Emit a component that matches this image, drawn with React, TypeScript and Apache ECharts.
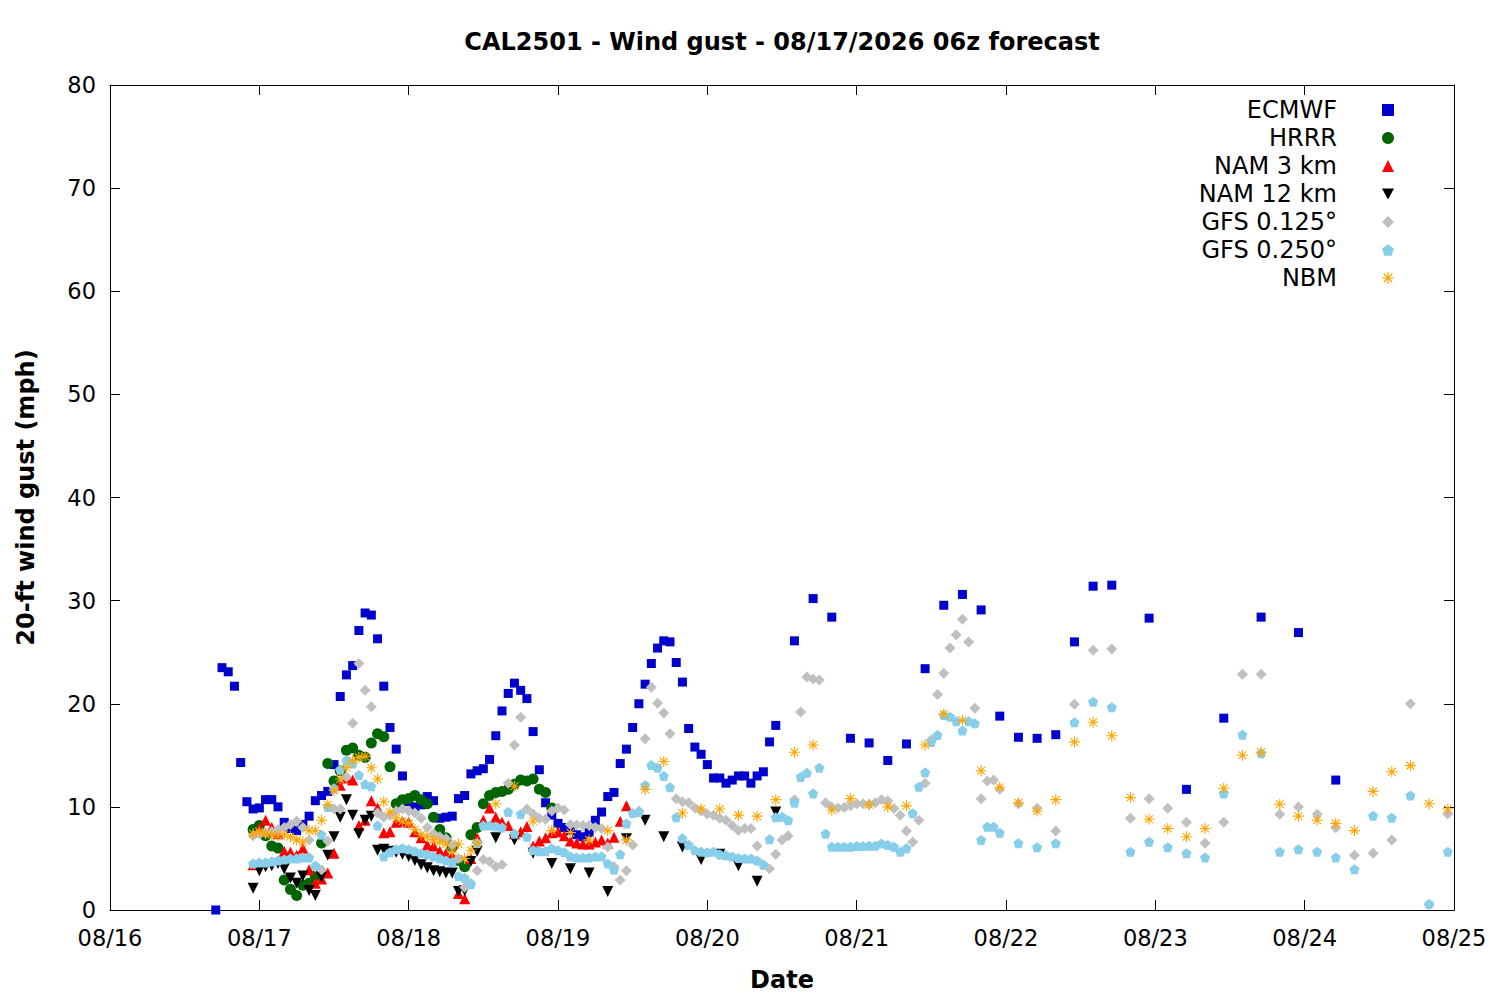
import React, { useEffect, useRef } from "react";
import * as echarts from "echarts";

// ---- time helpers (hours since 08/16 00:00 local) ----
function hourRange(start: number, end: number, step: number): number[] {
  const out: number[] = [];
  for (let h = start; h <= end; h += step) out.push(h);
  return out;
}

const DAY_LABELS = ["08/16", "08/17", "08/18", "08/19", "08/20", "08/21", "08/22", "08/23", "08/24", "08/25"];
const Y_TICKS = [0, 10, 20, 30, 40, 50, 60, 70, 80];

const SERIES_NAMES = ["ECMWF", "HRRR", "NAM 3 km", "NAM 12 km", "GFS 0.125\u00b0", "GFS 0.250\u00b0", "NBM"];

// ---- ECMWF: hourly 17..107, 3-hourly 110..161, 6-hourly 167..197 ----
const ECMWF_HOURS = [...hourRange(17, 107, 1), ...hourRange(110, 161, 3), ...hourRange(167, 197, 6)];
const ECMWF_GUST = [
  0, 23.5, 23.1, 21.7, 14.3, 10.5, 9.8, 9.9, 10.7, 10.7,
  10.0, 8.5, 7.9, 7.7, 8.3, 9.1, 10.6, 11.1, 11.5, 14.1,
  20.7, 22.8, 23.7, 27.1, 28.8, 28.6, 26.3, 21.7, 17.7, 15.6,
  13.0, 10.5, 10.0, 10.2, 11.0, 10.6, 8.9, 9.0, 9.1, 10.8,
  11.1, 13.2, 13.5, 13.7, 14.6, 16.9, 19.3, 21.0, 22.0, 21.3,
  20.5, 17.3, 13.6, 10.4, 9.2, 8.4, 8.0, 7.7, 7.3, 7.1,
  7.5, 8.7, 9.5, 11.0, 11.4, 14.2, 15.6, 17.7, 20.0, 21.9,
  23.9, 25.4, 26.1, 26.0, 24.0, 22.1, 17.6, 15.8, 15.1, 14.1,
  12.8, 12.8, 12.3, 12.6, 13.0, 13.0, 12.3, 13.0, 13.4, 16.3,
  17.9,
  26.1, 30.2, 28.4, 16.65, 16.2, 14.5, 16.1, 23.4, 29.55, 30.6,
  29.1, 18.8, 16.75, 16.65, 17.0, 26.0, 31.4, 31.5,
  28.3, 11.7, 18.6, 28.4, 26.9, 12.6,
];

// ---- HRRR: hourly 23..71 ----
const HRRR_HOURS = hourRange(23, 71, 1);
const HRRR_GUST = [
  7.8, 8.2, 7.2, 6.2, 6.0, 2.9, 2.0, 1.4, 2.4, 2.6,
  3.3, 6.5, 14.2, 12.5, 13.5, 15.5, 15.7, 15.0, 14.8, 16.2,
  17.1, 16.8, 13.9, 10.3, 10.7, 10.8, 11.1, 10.7, 10.3, 9.0,
  7.8, 7.0, 6.1, 4.8, 4.2, 7.3, 8.0, 10.3, 11.1, 11.4,
  11.5, 11.7, 12.2, 12.6, 12.5, 12.7, 11.7, 11.4, 9.9,
];

// ---- NAM 3 km: hourly 23..83 ----
const NAM3_HOURS = hourRange(23, 83, 1);
const NAM3_GUST = [
  4.4, 7.9, 8.7, 8.0, 7.4, 5.7, 5.6, 5.3, 6.0, 3.9,
  2.6, 3.0, 3.6, 5.5, 12.1, 12.8, 12.6, 8.2, 8.7, 10.6,
  9.9, 7.5, 7.6, 8.5, 8.6, 8.5, 7.6, 7.0, 6.3, 6.2,
  5.7, 5.5, 5.3, 1.6, 1.1, 5.0, 7.0, 8.7, 9.9, 9.0,
  8.5, 8.2, 7.4, 7.6, 8.1, 6.2, 6.7, 7.0, 7.5, 7.6,
  7.2, 6.7, 6.5, 6.4, 6.4, 6.6, 6.8, 6.5, 7.05, 8.6,
  10.1,
];

// ---- NAM 12 km: hourly 23..59, 3-hourly 62..107 ----
const NAM12_HOURS = [...hourRange(23, 59, 1), ...hourRange(62, 107, 3)];
const NAM12_GUST = [
  2.1, 3.8, 4.2, 4.3, 4.5, 4.0, 3.1, 2.6, 3.3, 1.9,
  1.4, 3.2, 5.3, 7.1, 9.0, 10.7, 9.2, 7.4, 8.7, 9.1,
  5.8, 5.9, 5.7, 5.6, 5.4, 5.2, 4.8, 4.4, 4.1, 3.8,
  3.7, 3.6, 3.6, 1.8, 1.9, 4.7, 5.7,
  7.0, 6.8, 5.5, 4.5, 4.0, 3.6, 1.8, 6.9, 8.7, 7.1,
  6.1, 4.9, 5.4, 4.3, 2.8, 9.5,
];

// ---- GFS 0.125: hourly 23..143, 3-hourly 146..215 ----
const GFS125_HOURS = [...hourRange(23, 143, 1), ...hourRange(146, 215, 3)];
const GFS125_GUST = [
  7.2, 7.4, 7.5, 7.6, 7.8, 8.0, 8.3, 8.6, 8.0, 6.8,
  4.2, 3.9, 6.7, 9.8, 9.8, 12.9, 18.1, 23.9, 21.3, 19.7,
  9.4, 9.0, 9.2, 9.6, 9.8, 9.6, 9.4, 8.9, 8.0, 7.4,
  7.1, 6.9, 6.3, 5.0, 2.2, 2.6, 3.8, 4.9, 4.7, 4.2,
  4.4, 12.3, 16.0, 18.7, 9.8, 9.3, 8.9, 8.8, 9.6, 9.9,
  9.7, 8.3, 8.25, 8.2, 8.2, 8.0, 7.9, 6.1, 4.2, 2.9,
  3.8, 6.3, 9.6, 16.6, 21.6, 20.05, 19.1, 17.1, 10.8, 10.5,
  10.4, 9.9, 9.6, 9.3, 9.2, 8.9, 8.7, 8.2, 7.7, 7.9,
  7.9, 6.2, 4.4, 4.0, 5.4, 6.8, 7.2, 10.7, 19.2, 22.6,
  22.4, 22.3, 10.4, 10.0, 9.9, 9.95, 10.1, 10.3, 10.3, 10.25,
  10.4, 10.7, 10.6, 9.85, 9.2, 7.66, 6.6, 8.7, 12.3, 16.5,
  20.9, 22.96, 25.4, 26.7, 28.2, 26.0, 19.56, 10.8, 12.5, 12.6,
  11.7,
  10.3, 9.86, 7.66, 19.95, 25.2, 25.3, 8.9, 10.8, 9.86, 8.5,
  6.47, 8.5, 22.86, 22.86, 9.28, 10.0, 9.28, 7.98, 5.3, 5.5,
  6.8, 20.0, 0.5, 9.3,
];

// ---- GFS 0.250: hourly 23..143, 3-hourly 146..215 ----
const GFS250_HOURS = [...hourRange(23, 143, 1), ...hourRange(146, 215, 3)];
const GFS250_GUST = [
  4.5, 4.6, 4.6, 4.7, 4.8, 4.9, 5.0, 5.0, 5.1, 5.1,
  4.3, 7.3, 10.0, 11.8, 13.6, 14.5, 14.2, 13.1, 12.2, 12.0,
  8.2, 5.2, 5.6, 5.9, 6.0, 5.9, 5.7, 5.5, 5.4, 5.2,
  5.0, 4.8, 4.6, 3.3, 3.1, 2.5, 6.5, 8.2, 8.2, 8.1,
  8.0, 9.5, 7.4, 9.3, 7.1, 5.8, 5.7, 5.7, 6.0, 5.8,
  5.6, 5.2, 5.1, 5.1, 5.1, 5.2, 5.2, 4.5, 3.9, 5.4,
  8.4, 9.4, 9.5, 12.1, 14.05, 13.8, 13.0, 11.9, 9.0, 6.95,
  6.3, 5.8, 5.65, 5.6, 5.65, 5.4, 5.3, 5.2, 5.05, 5.0,
  5.0, 4.8, 4.4, 6.85, 9.0, 9.05, 8.7, 10.4, 12.9, 13.3,
  11.3, 13.8, 7.4, 6.14, 6.14, 6.14, 6.14, 6.2, 6.2, 6.24,
  6.24, 6.46, 6.3, 6.14, 5.66, 5.98, 9.38, 11.96, 13.35, 16.3,
  16.97, 18.9, 18.75, 18.3, 17.4, 18.3, 18.1, 6.8, 8.08, 8.08,
  7.5,
  6.47, 6.08, 6.47, 18.2, 20.2, 19.66, 5.66, 6.63, 6.08, 5.5,
  5.1, 11.3, 17.0, 15.2, 5.66, 5.9, 5.66, 5.1, 3.95, 9.15,
  8.95, 11.1, 0.6, 5.66,
];

// ---- NBM: hourly 23..59, 3-hourly 62..215 ----
const NBM_HOURS = [...hourRange(23, 59, 1), ...hourRange(62, 215, 3)];
const NBM_GUST = [
  7.4, 7.6, 7.4, 7.3, 7.2, 7.3, 7.1, 6.8, 6.6, 7.7,
  7.7, 8.7, 10.2, 11.6, 12.7, 13.8, 14.5, 14.8, 14.9, 13.8,
  12.7, 10.5, 9.5, 8.9, 8.6, 8.4, 7.8, 7.3, 7.1, 6.8,
  6.6, 6.4, 5.6, 6.4, 5.0, 5.8, 6.5,
  10.3, 12.0, 8.6, 7.7, 7.5, 6.8, 7.7, 6.8, 11.7, 14.4,
  9.4, 9.8, 9.8, 9.2, 9.1, 10.7, 15.3, 16.0, 9.7, 10.8,
  10.2, 10.0, 10.1, 16.0, 19.0, 18.4, 13.5, 11.9, 10.4, 9.6,
  10.7, 16.3, 18.2, 16.9, 10.9, 8.8, 7.9, 7.1, 7.9, 11.8,
  15.0, 15.3, 10.25, 9.1, 8.7, 8.4, 7.7, 11.5, 13.4, 14.0,
  10.3, 9.8,
];

const FONT = "DejaVu Sans";

const PENTAGON = "path://M0,-10 L9.51,-3.09 L5.88,8.09 L-5.88,8.09 L-9.51,-3.09 Z";
const DOWN_TRIANGLE = "path://M-5,-4.5 L5,-4.5 L0,4.5 Z";
const ASTERISK =
  "path://M-5,-0.5 L5,-0.5 L5,0.5 L-5,0.5 Z " +
  "M-0.5,-5 L0.5,-5 L0.5,5 L-0.5,5 Z " +
  "M-3.18,-3.89 L3.89,3.18 L3.18,3.89 L-3.89,-3.18 Z " +
  "M3.18,-3.89 L3.89,-3.18 L-3.18,3.89 L-3.89,3.18 Z";

function pair(hours: number[], vals: number[]): number[][] {
  const n = Math.min(hours.length, vals.length);
  const out: number[][] = [];
  for (let i = 0; i < n; i++) out.push([hours[i], vals[i]]);
  return out;
}

export default function App() {
  const ref = useRef<HTMLDivElement>(null);

  useEffect(() => {
    if (!ref.current) return;
    const chart = echarts.init(ref.current, undefined, { renderer: "svg" });

    const axisLine = { show: true, onZero: false, lineStyle: { color: "#000", width: 1 } };
    const axisTick = { show: true, inside: true, length: 10, lineStyle: { color: "#000", width: 1 } };

    const mk = (name: string, data: number[][], symbol: string, size: number, color: string) => ({
      type: "scatter",
      name,
      data,
      symbol,
      symbolSize: size,
      itemStyle: { color, opacity: 1 },
      clip: false,
      xAxisIndex: 0,
      yAxisIndex: 0,
      emphasis: { disabled: true },
    });

    const option: any = {
      animation: false,
      backgroundColor: "#ffffff",
      textStyle: { fontFamily: FONT },
      graphic: [
        {
          type: "text",
          x: 782,
          y: 42,
          style: {
            text: "CAL2501 - Wind gust - 08/17/2026 06z forecast",
            fontFamily: FONT,
            fontSize: 24,
            fontWeight: "bold",
            fill: "#000",
            textAlign: "center",
            textVerticalAlign: "middle",
          },
        },
      ],
      grid: { left: 110, top: 85, width: 1344, height: 825, containLabel: false },
      xAxis: [
        {
          type: "value",
          min: 0,
          max: 216,
          interval: 24,
          position: "bottom",
          axisLine,
          axisTick,
          splitLine: { show: false },
          axisLabel: {
            show: true,
            color: "#000",
            fontFamily: FONT,
            fontSize: 22.5,
            margin: 16,
            formatter: (v: number) => DAY_LABELS[Math.round(v / 24)] ?? "",
          },
          name: "Date",
          nameLocation: "middle",
          nameGap: 58,
          nameTextStyle: { color: "#000", fontFamily: FONT, fontSize: 24, fontWeight: "bold" },
        },
        {
          type: "value",
          min: 0,
          max: 216,
          interval: 24,
          position: "top",
          axisLine,
          axisTick,
          splitLine: { show: false },
          axisLabel: { show: false },
        },
      ],
      yAxis: [
        {
          type: "value",
          min: Y_TICKS[0],
          max: Y_TICKS[Y_TICKS.length - 1],
          interval: 10,
          position: "left",
          axisLine,
          axisTick,
          splitLine: { show: false },
          axisLabel: { show: true, color: "#000", fontFamily: FONT, fontSize: 22.5, margin: 14 },
          name: "20-ft wind gust (mph)",
          nameLocation: "middle",
          nameRotate: 90,
          nameGap: 72,
          nameTextStyle: { color: "#000", fontFamily: FONT, fontSize: 24, fontWeight: "bold" },
        },
        {
          type: "value",
          min: Y_TICKS[0],
          max: Y_TICKS[Y_TICKS.length - 1],
          interval: 10,
          position: "right",
          axisLine,
          axisTick,
          splitLine: { show: false },
          axisLabel: { show: false },
        },
      ],
      legend: {
        show: true,
        orient: "vertical",
        right: 106,
        top: 98,
        padding: 0,
        align: "right",
        itemWidth: 12,
        itemHeight: 12,
        itemGap: 4,
        selectedMode: false,
        textStyle: {
          color: "#000",
          fontFamily: FONT,
          fontSize: 24,
          lineHeight: 24,
          padding: [0, 40, 0, 0],
        },
        data: SERIES_NAMES,
      },
      series: [
        mk(SERIES_NAMES[0], pair(ECMWF_HOURS, ECMWF_GUST), "rect", 9, "#0000cc"),
        mk(SERIES_NAMES[1], pair(HRRR_HOURS, HRRR_GUST), "circle", 11, "#006400"),
        mk(SERIES_NAMES[2], pair(NAM3_HOURS, NAM3_GUST), "triangle", 11, "#ff0000"),
        mk(SERIES_NAMES[3], pair(NAM12_HOURS, NAM12_GUST), DOWN_TRIANGLE, 11, "#000000"),
        mk(SERIES_NAMES[4], pair(GFS125_HOURS, GFS125_GUST), "diamond", 11, "#c0c0c0"),
        mk(SERIES_NAMES[5], pair(GFS250_HOURS, GFS250_GUST), PENTAGON, 10, "#87ceeb"),
        mk(SERIES_NAMES[6], pair(NBM_HOURS, NBM_GUST), ASTERISK, 11, "#ffa500"),
      ],
    };

    chart.setOption(option);
    return () => chart.dispose();
  }, []);

  return (
    <div
      ref={ref}
      style={{ position: "absolute", left: 0, top: 0, width: 1500, height: 1000, background: "#fff" }}
    />
  );
}
